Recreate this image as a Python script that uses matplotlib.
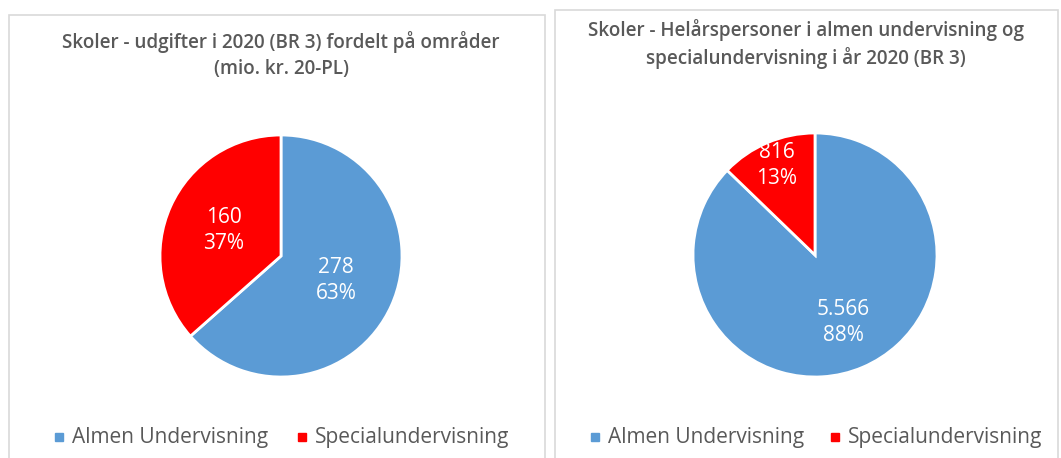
import numpy as np
import matplotlib.pyplot as plt
from matplotlib.patches import Rectangle

categories = ['Almen Undervisning', 'Specialundervisning']

# left chart: expenses (mio. kr.)
udgifter = [278, 160]
udgifter_labels = ['278', '160']
udgifter_pct = ['63%', '37%']

# right chart: persons
personer = [5566, 816]
personer_labels = ['5.566', '816']
personer_pct = ['88%', '13%']

titles = ['Skoler - udgifter i 2020 (BR 3) fordelt på områder\n(mio. kr. 20-PL)',
          'Skoler - Helårspersoner i almen undervisning og\nspecialundervisning i år 2020 (BR 3)']

colors = ['#5B9BD5', '#FF0000']
TXT = '#595959'
FONT = ['Open Sans', 'DejaVu Sans']

W, H = 1061, 458
fig = plt.figure(figsize=(W / 100, H / 100), dpi=100)


def px_box(x0, y0, x1, y1):
    # pixel box (top-left origin) -> figure fraction rect
    return [x0 / W, (H - y1) / H, (x1 - x0) / W, (y1 - y0) / H]


def panel(box, title, title_y, title_x):
    x0, y0, x1, y1 = box
    fig.patches.append(Rectangle((x0 / W, (H - y1) / H), (x1 - x0) / W, (y1 - y0) / H,
                                 transform=fig.transFigure, fill=False,
                                 edgecolor='#D9D9D9', linewidth=1.2))
    fig.text(title_x / W, 1 - title_y / H, title, ha='center', va='center',
             fontsize=13.6, fontweight='semibold', color=TXT, family=FONT, linespacing=1.4)


def draw_pie(center, r, values, labels, pcts, dists):
    cx, cy = center
    ax = fig.add_axes(px_box(cx - r, cy - r, cx + r, cy + r))
    wedges, _ = ax.pie(values, colors=colors, startangle=90, counterclock=False,
                       wedgeprops=dict(edgecolor='white', linewidth=2))
    ax.set_xlim(-1, 1)
    ax.set_ylim(-1, 1)
    ax.set_aspect('equal')
    ax.axis('off')
    for w, lab, p, d in zip(wedges, labels, pcts, dists):
        ang = np.deg2rad((w.theta1 + w.theta2) / 2)
        ax.text(d * np.cos(ang), d * np.sin(ang), lab + '\n' + p, ha='center', va='center',
                color='white', fontsize=15, family=FONT, linespacing=1.3)


def draw_legend(x_start, y, gap):
    x = x_start
    for c, name in zip(colors, categories):
        fig.patches.append(Rectangle((x / W, 1 - (y + 4) / H), 8 / W, 8 / H,
                                     transform=fig.transFigure, color=c))
        t = fig.text((x + 17) / W, 1 - y / H, name, ha='left', va='center',
                     fontsize=15, color=TXT, family=FONT)
        fig.canvas.draw()
        bb = t.get_window_extent()
        x = bb.x1 + gap


panel((9, 15, 545, 470), titles[0], 55, 281)
panel((555, 10, 1058, 470), titles[1], 44, 806)

draw_pie((281, 256), 121, udgifter, udgifter_labels, udgifter_pct, [0.5, 0.52])
draw_pie((815, 255), 122, personer, personer_labels, personer_pct, [0.6, 0.8])

draw_legend(55, 437, 30)
draw_legend(591, 437, 27)

fig.savefig('out.png', dpi=100, facecolor='white')
